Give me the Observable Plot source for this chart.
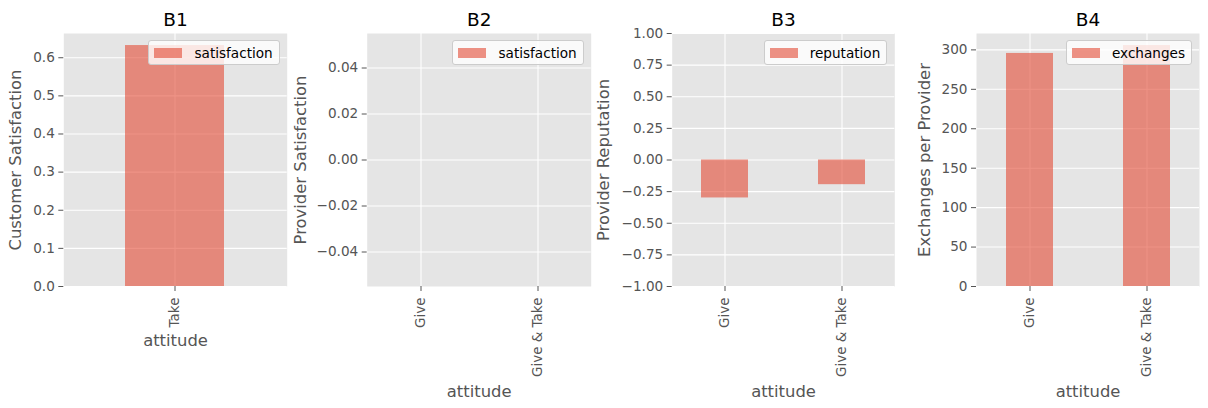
<!DOCTYPE html>
<html><head><meta charset="utf-8">
<script src="https://cdn.jsdelivr.net/npm/d3@7"></script>
<script src="https://cdn.jsdelivr.net/npm/@observablehq/plot@0.6"></script>
<style>
body{margin:0;background:#fff;font-family:"DejaVu Sans",sans-serif;}
#c{position:relative;width:1208px;height:408px;overflow:hidden;background:#fff}
.p{position:absolute;top:0}
.lg{position:absolute;top:40px;height:25px;border:1px solid #cccccc;border-radius:3px;background:rgba(255,255,255,0.8);display:flex;align-items:center;font-size:13.6px;color:#000;box-sizing:border-box;padding:0 6px 0 5px;white-space:nowrap}
.lg .sw{width:28px;height:10px;background:#E24A33;opacity:0.6;margin-right:12px;flex:none}
</style></head><body><div id="c"></div>
<script>
// ---- data ----
const b1Attitudes = ["Take"];
const b1Satisfaction = [0.632];
const b2Attitudes = ["Give", "Give & Take"];
const b2Satisfaction = [0, 0];
const b3Attitudes = ["Give", "Give & Take"];
const b3Reputation = [-0.30, -0.195];
const b4Attitudes = ["Give", "Give & Take"];
const b4Exchanges = [295.5, 305.5];
const b1Ticks = [0, 0.1, 0.2, 0.3, 0.4, 0.5, 0.6];
const b2Ticks = [-0.04, -0.02, 0, 0.02, 0.04];
const b3Ticks = [-1, -0.75, -0.5, -0.25, 0, 0.25, 0.5, 0.75, 1];
const b4Ticks = [0, 50, 100, 150, 200, 250, 300];
const titles = ["B1", "B2", "B3", "B4"];
const yLabels = ["Customer Satisfaction", "Provider Satisfaction", "Provider Reputation", "Exchanges per Provider"];
const legendLabels = ["satisfaction", "satisfaction", "reputation", "exchanges"];
const xLabel = "attitude";

// ---- layout ----
const panels = [
  {cats: b1Attitudes, vals: b1Satisfaction, ticks: b1Ticks, fmt: ".1f", yDomain: [0, d3.max(b1Satisfaction) * 1.05],
   left: 0, width: 300, mL: 63.3, mR: 13.3, labelC: 15.5, xlDy: 59, pi: 0.556, po: 0.2},
  {cats: b2Attitudes, vals: b2Satisfaction, ticks: b2Ticks, fmt: ".2f", yDomain: [-0.055, 0.055],
   left: 300, width: 295, mL: 66.7, mR: 4.3, labelC: 300, xlDy: 110, pi: 0.6, po: 0.25},
  {cats: b3Attitudes, vals: b3Reputation, ticks: b3Ticks, fmt: ".2f", yDomain: [-1, 1],
   left: 595, width: 310, mL: 76.7, mR: 10.7, labelC: 603.7, xlDy: 110, pi: 0.6, po: 0.25},
  {cats: b4Attitudes, vals: b4Exchanges, ticks: b4Ticks, fmt: "d", yDomain: [0, d3.max(b4Exchanges) * 1.05],
   left: 905, width: 303, mL: 71, mR: 9, labelC: 924, xlDy: 110, pi: 0.6, po: 0.25}
];

const container = document.getElementById("c");
panels.forEach((p, i) => {
  const data = p.cats.map((c, j) => ({cat: c, val: p.vals[j]}));
  const svg = Plot.plot({
    width: p.width, height: 408,
    marginLeft: p.mL, marginRight: p.mR, marginTop: 33, marginBottom: 122,
    style: {fontFamily: "DejaVu Sans", background: "transparent", color: "#555555", overflow: "visible"},
    x: {type: "band", domain: p.cats, paddingInner: p.pi, paddingOuter: p.po, align: 0.5, label: null, axis: null},
    y: {domain: p.yDomain, label: null, axis: null},
    marks: [
      Plot.frame({fill: "#E5E5E5", stroke: null}),
      Plot.gridY(p.ticks, {stroke: "#ffffff", strokeOpacity: 1, strokeWidth: 1.1}),
      Plot.gridX({stroke: "#ffffff", strokeOpacity: 1, strokeWidth: 1.1}),
      Plot.barY(data, {x: "cat", y: "val", fill: "#E24A33", fillOpacity: 0.6}),
      Plot.axisY(p.ticks, {tickFormat: d3.format(p.fmt), tickSize: 5, tickPadding: 4, fontSize: 13.6, label: null}),
      Plot.axisX({tickRotate: -90, tickSize: 5, tickPadding: 6, fontSize: 13.5, label: null}),
      Plot.text([titles[i]], {frameAnchor: "top", dy: -8, fontSize: 18.5, fill: "#000", lineAnchor: "bottom"}),
      Plot.text([yLabels[i]], {frameAnchor: "left", rotate: -90, textAnchor: "middle", dx: p.labelC - p.left - p.mL, fontSize: 16.4, fill: "#555555", lineAnchor: "middle"}),
      Plot.text([xLabel], {frameAnchor: "bottom", dy: p.xlDy, fontSize: 16.4, fill: "#555555", lineAnchor: "bottom"})
    ]
  });
  svg.classList.add("p");
  svg.style.left = p.left + "px";
  container.appendChild(svg);

  const frameRight = p.left + p.width - p.mR;
  const lg = document.createElement("div");
  lg.className = "lg";
  lg.style.right = (1208 - (frameRight - 7)) + "px";
  lg.innerHTML = '<span class="sw"></span><span></span>';
  lg.lastChild.textContent = legendLabels[i];
  container.appendChild(lg);
});
</script>
</body></html>
